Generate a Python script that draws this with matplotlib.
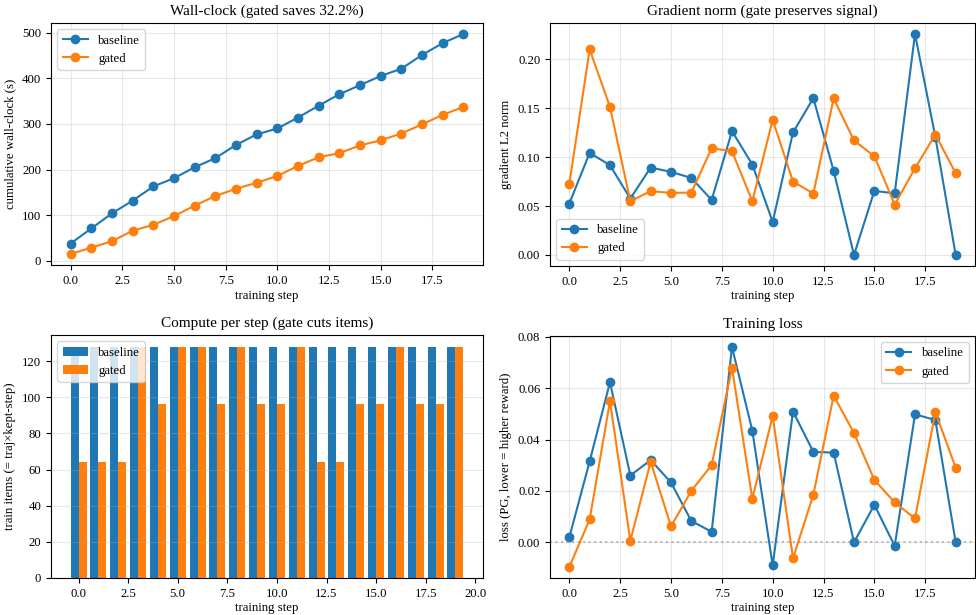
import numpy as np
import matplotlib
matplotlib.use("Agg")
import matplotlib.pyplot as plt

plt.rcParams['font.family'] = ['Liberation Serif', 'DejaVu Serif']
plt.rcParams['font.size'] = 9.2

steps = np.arange(20)

wall_base = [38, 71, 104, 132, 163, 181, 205, 225, 254, 277, 290, 314, 340, 365, 385, 405, 421, 451, 477, 497]
wall_gated = [15, 29, 43, 66, 79, 98, 121, 142, 158, 171, 186, 208, 227, 236, 253, 264, 279, 299, 320, 337]

grad_base = [0.0526, 0.1044, 0.0918, 0.0577, 0.0894, 0.0850, 0.0788, 0.0563, 0.1266, 0.0925,
             0.0338, 0.1253, 0.1604, 0.0860, 0.0, 0.0655, 0.0631, 0.2260, 0.1208, 0.0]
grad_gated = [0.0727, 0.2102, 0.1515, 0.0550, 0.0652, 0.0635, 0.0638, 0.1092, 0.1061, 0.0550,
              0.1382, 0.0751, 0.0628, 0.1601, 0.1171, 0.1010, 0.0515, 0.0887, 0.1232, 0.0836]

items_base = [128] * 20
items_gated = [64, 64, 64, 128, 96, 128, 128, 96, 128, 96, 96, 128, 64, 64, 96, 96, 128, 96, 96, 128]

loss_base = [0.0019, 0.0315, 0.0623, 0.0260, 0.0320, 0.0233, 0.0083, 0.0041, 0.0760, 0.0434,
             -0.0090, 0.0509, 0.0352, 0.0349, 0.0, 0.0146, -0.0014, 0.0498, 0.0476, 0.0]
loss_gated = [-0.0096, 0.0089, 0.0549, 0.0006, 0.0314, 0.0062, 0.0200, 0.0301, 0.0679, 0.0169,
              0.0492, -0.0062, 0.0185, 0.0571, 0.0425, 0.0243, 0.0155, 0.0093, 0.0507, 0.0290]

savings = 1 - wall_gated[-1] / wall_base[-1]

W, H = 976, 615
fig = plt.figure(figsize=(W / 100, H / 100), dpi=100)

def box(l, t, r, b):
    return [l / W, 1 - b / H, (r - l) / W, (b - t) / H]

ax1 = fig.add_axes(box(51, 23, 483, 265))
ax2 = fig.add_axes(box(550, 23, 975, 266))
ax3 = fig.add_axes(box(51, 335, 483, 578))
ax4 = fig.add_axes(box(550, 336, 975, 578))

ms = 6
tsize = 11
ax1.plot(steps, wall_base, marker='o', ms=ms, label='baseline')
ax1.plot(steps, wall_gated, marker='o', ms=ms, label='gated')
ax1.set_title(f'Wall-clock (gated saves {savings*100:.1f}%)', fontsize=tsize)
ax1.set_xlabel('training step', labelpad=2)
ax1.set_ylabel('cumulative wall-clock (s)')
ax1.legend(loc='upper left')
ax1.grid(alpha=0.3)

ax2.plot(steps, grad_base, marker='o', ms=ms, label='baseline')
ax2.plot(steps, grad_gated, marker='o', ms=ms, label='gated')
ax2.set_title('Gradient norm (gate preserves signal)', fontsize=tsize)
ax2.set_xlabel('training step', labelpad=2)
ax2.set_ylabel('gradient L2 norm')
ax2.legend(loc='lower left')
ax2.grid(alpha=0.3)

ax3.bar(steps - 0.2, items_base, width=0.4, label='baseline')
ax3.bar(steps + 0.2, items_gated, width=0.4, label='gated')
ax3.set_title('Compute per step (gate cuts items)', fontsize=tsize)
ax3.set_xlabel('training step', labelpad=2)
ax3.set_ylabel('train items (= traj×kept-step)')
ax3.legend(loc='upper left')
ax3.grid(alpha=0.3, axis='y')

ax4.plot(steps, loss_base, marker='o', ms=ms, label='baseline')
ax4.plot(steps, loss_gated, marker='o', ms=ms, label='gated')
ax4.axhline(0, color='gray', ls=':', alpha=0.5)
ax4.set_title('Training loss', fontsize=tsize)
ax4.set_xlabel('training step', labelpad=2)
ax4.set_ylabel('loss (PG, lower = higher reward)')
ax4.legend(loc='upper right')
ax4.grid(alpha=0.3)

fig.savefig('out.png', dpi=100)
